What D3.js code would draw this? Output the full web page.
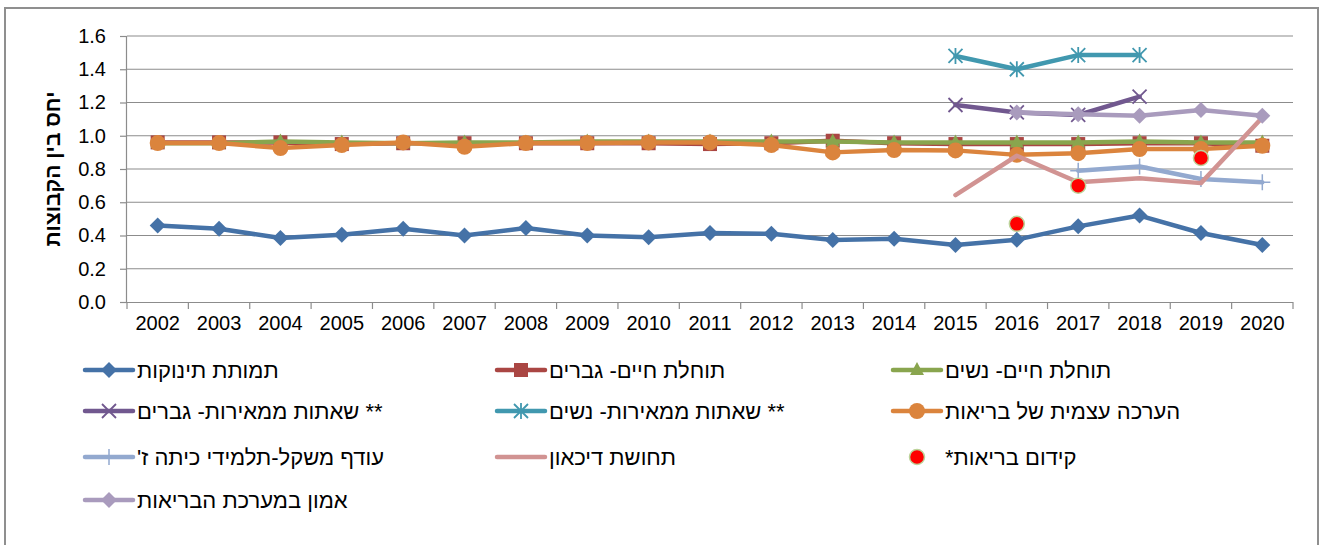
<!DOCTYPE html>
<html>
<head>
<meta charset="utf-8">
<script src="https://cdn.jsdelivr.net/npm/d3@7"></script>
<style>
  html, body { margin: 0; padding: 0; background: #fff; }
  svg { display: block; font-family: "Liberation Sans", Arial, sans-serif; }
</style>
</head>
<body>
<svg id="chart" width="1322" height="545"></svg>
<script>
const years = ["2002","2003","2004","2005","2006","2007","2008","2009","2010","2011","2012","2013","2014","2015","2016","2017","2018","2019","2020"];
const yTicks = [0, 0.2, 0.4, 0.6, 0.8, 1.0, 1.2, 1.4, 1.6];
const yTitle = "יחס בין הקבוצות";

const infantMortality = [0.46,0.44,0.385,0.405,0.44,0.40,0.445,0.40,0.39,0.415,0.41,0.373,0.38,0.343,0.375,0.455,0.52,0.415,0.343];
const lifeExpMen      = [0.96,0.96,0.96,0.95,0.955,0.955,0.955,0.955,0.955,0.95,0.955,0.97,0.955,0.95,0.95,0.95,0.955,0.955,0.94];
const lifeExpWomen    = [0.955,0.955,0.965,0.96,0.955,0.96,0.96,0.965,0.965,0.965,0.965,0.965,0.96,0.96,0.96,0.96,0.965,0.96,0.96];
const cancerMen       = [null,null,null,null,null,null,null,null,null,null,null,null,null,1.185,1.14,1.125,1.235,null,null];
const cancerWomen     = [null,null,null,null,null,null,null,null,null,null,null,null,null,1.48,1.40,1.485,1.485,null,null];
const selfRatedHealth = [0.956,0.956,0.926,0.944,0.96,0.934,0.956,0.956,0.96,0.96,0.944,0.90,0.914,0.912,0.885,0.895,0.92,0.92,0.94];
const overweight      = [null,null,null,null,null,null,null,null,null,null,null,null,null,null,null,0.79,0.815,0.74,0.72];
const depression      = [null,null,null,null,null,null,null,null,null,null,null,null,null,0.643,0.88,0.72,0.745,0.715,1.11];
const healthPromotion = [null,null,null,null,null,null,null,null,null,null,null,null,null,null,0.47,0.70,null,0.866,null];
const trustHealth     = [null,null,null,null,null,null,null,null,null,null,null,null,null,null,1.14,1.13,1.12,1.155,1.12];

const labels = [
  "תמותת תינוקות",
  "תוחלת חיים- גברים",
  "תוחלת חיים- נשים",
  "** שאתות ממאירות- גברים",
  "** שאתות ממאירות- נשים",
  "הערכה עצמית של בריאות",
  "עודף משקל-תלמידי כיתה ז'",
  "תחושת דיכאון",
  "קידום בריאות*",
  "אמון במערכת הבריאות"
];

const series = [
  {name: labels[0], values: infantMortality, color: "#4572A7", marker: "diamond", line: true},
  {name: labels[1], values: lifeExpMen, color: "#AA4643", marker: "square", line: true},
  {name: labels[2], values: lifeExpWomen, color: "#89A54E", marker: "triangle", line: true},
  {name: labels[3], values: cancerMen, color: "#71588F", marker: "x", line: true},
  {name: labels[4], values: cancerWomen, color: "#4198AF", marker: "star", line: true},
  {name: labels[5], values: selfRatedHealth, color: "#DB843D", marker: "circle", line: true},
  {name: labels[6], values: overweight, color: "#93A9CF", marker: "plus", line: true},
  {name: labels[7], values: depression, color: "#D19392", marker: "none", line: true},
  {name: labels[8], values: healthPromotion, color: "#FF0000", marker: "dot", line: false},
  {name: labels[9], values: trustHealth, color: "#A99BBD", marker: "diamond", line: true}
];

const svg = d3.select("#chart");
const pLeft = 127, pRight = 1293, pTop = 36, pBottom = 302;

// outer frame
svg.append("rect").attr("x", 5).attr("y", 8).attr("width", 1313).attr("height", 560)
  .attr("fill", "none").attr("stroke", "#8f8f8f").attr("stroke-width", 2);

const x = d3.scaleBand().domain(years).range([pLeft, pRight]);
const y = d3.scaleLinear().domain([0, 1.6]).range([pBottom, pTop]);

// gridlines
svg.append("g").selectAll("line").data(yTicks.filter(d => d > 0)).join("line")
  .attr("x1", pLeft).attr("x2", pRight)
  .attr("y1", d => y(d)).attr("y2", d => y(d))
  .attr("stroke", "#8c8c8c").attr("stroke-width", 1.2);

// y axis
const yAxis = svg.append("g").attr("transform", `translate(${pLeft},0)`)
  .call(d3.axisLeft(y).tickValues(yTicks).tickFormat(d3.format(".1f")).tickSize(7).tickPadding(14));
yAxis.select(".domain").attr("stroke", "#8c8c8c").attr("stroke-width", 1.2).attr("d", `M-0.5,${pTop}V${pBottom}`);
yAxis.selectAll(".tick line").attr("stroke", "#8c8c8c").attr("stroke-width", 1.2);
yAxis.selectAll("text").attr("font-size", 20).attr("fill", "#000").attr("font-family", "Liberation Sans, Arial, sans-serif");

// x axis
const xAxis = svg.append("g").attr("transform", `translate(0,${pBottom})`)
  .call(d3.axisBottom(x).tickSize(0).tickPadding(14));
xAxis.select(".domain").attr("stroke", "#8c8c8c").attr("stroke-width", 1.2).attr("d", `M${pLeft},0.5H${pRight}`);
xAxis.selectAll("text").attr("font-size", 20).attr("fill", "#000").attr("font-family", "Liberation Sans, Arial, sans-serif");
const bounds = years.map(d => x(d)).concat([pRight]);
xAxis.append("g").selectAll("line").data(bounds).join("line")
  .attr("x1", d => d).attr("x2", d => d).attr("y1", 0).attr("y2", 7)
  .attr("stroke", "#8c8c8c").attr("stroke-width", 1.2);

// y title
svg.append("text")
  .attr("transform", `translate(60,169) rotate(-90)`)
  .attr("text-anchor", "middle")
  .attr("font-size", 21).attr("font-weight", "bold")
  .text(yTitle);

function drawMarker(g, type, color, cx, cy) {
  switch (type) {
    case "diamond":
      g.append("path").attr("d", `M${cx},${cy-8}L${cx+8},${cy}L${cx},${cy+8}L${cx-8},${cy}Z`).attr("fill", color);
      break;
    case "square":
      g.append("rect").attr("x", cx-7).attr("y", cy-7).attr("width", 14).attr("height", 14).attr("fill", color);
      break;
    case "triangle":
      g.append("path").attr("d", `M${cx},${cy-8}L${cx+7},${cy+5}L${cx-7},${cy+5}Z`).attr("fill", color);
      break;
    case "circle":
      g.append("circle").attr("cx", cx).attr("cy", cy).attr("r", 8).attr("fill", color);
      break;
    case "x":
      g.append("path").attr("d", `M${cx-7},${cy-7}L${cx+7},${cy+7}M${cx-7},${cy+7}L${cx+7},${cy-7}`)
        .attr("stroke", color).attr("stroke-width", 1.8).attr("fill", "none");
      break;
    case "star":
      g.append("path").attr("d", `M${cx-7},${cy-7}L${cx+7},${cy+7}M${cx-7},${cy+7}L${cx+7},${cy-7}M${cx},${cy-8}L${cx},${cy+8}`)
        .attr("stroke", color).attr("stroke-width", 1.8).attr("fill", "none");
      break;
    case "plus":
      g.append("path").attr("d", `M${cx},${cy-8}L${cx},${cy+8}M${cx-8},${cy}L${cx+8},${cy}`)
        .attr("stroke", color).attr("stroke-width", 1.5).attr("fill", "none");
      break;
    case "dot":
      g.append("circle").attr("cx", cx).attr("cy", cy).attr("r", 7.5).attr("fill", color)
        .attr("stroke", "#bcd39a").attr("stroke-width", 1.5);
      break;
  }
}

const cxOf = d => x(d) + x.bandwidth() / 2;
const line = d3.line().defined(d => d.v != null).x(d => cxOf(d.year)).y(d => y(d.v));

series.forEach(s => {
  const g = svg.append("g");
  const pts = years.map((yr, i) => ({year: yr, v: s.values[i]}));
  if (s.line) {
    g.append("path").datum(pts).attr("d", line)
      .attr("fill", "none").attr("stroke", s.color).attr("stroke-width", 4.5)
      .attr("stroke-linejoin", "round").attr("stroke-linecap", "round");
  }
  pts.filter(p => p.v != null).forEach(p => drawMarker(g, s.marker, s.color, cxOf(p.year), y(p.v)));
});

// legend
const colX = [85, 497, 893];
const rowY = [370, 411, 457, 500];
series.forEach((s, i) => {
  const col = i % 3, row = Math.floor(i / 3);
  const lx = colX[col], ly = rowY[row];
  const g = svg.append("g");
  if (s.line) {
    g.append("line").attr("x1", lx).attr("x2", lx + 48).attr("y1", ly).attr("y2", ly)
      .attr("stroke", s.color).attr("stroke-width", 4.5).attr("stroke-linecap", "round");
  }
  drawMarker(g, s.marker, s.color, lx + 24, ly);
  g.append("text").attr("x", lx + 52).attr("y", ly).attr("dy", "0.35em")
    .attr("font-size", 22).attr("fill", "#000")
    .text("\u202B" + s.name + "\u202C");
});
</script>
</body>
</html>
